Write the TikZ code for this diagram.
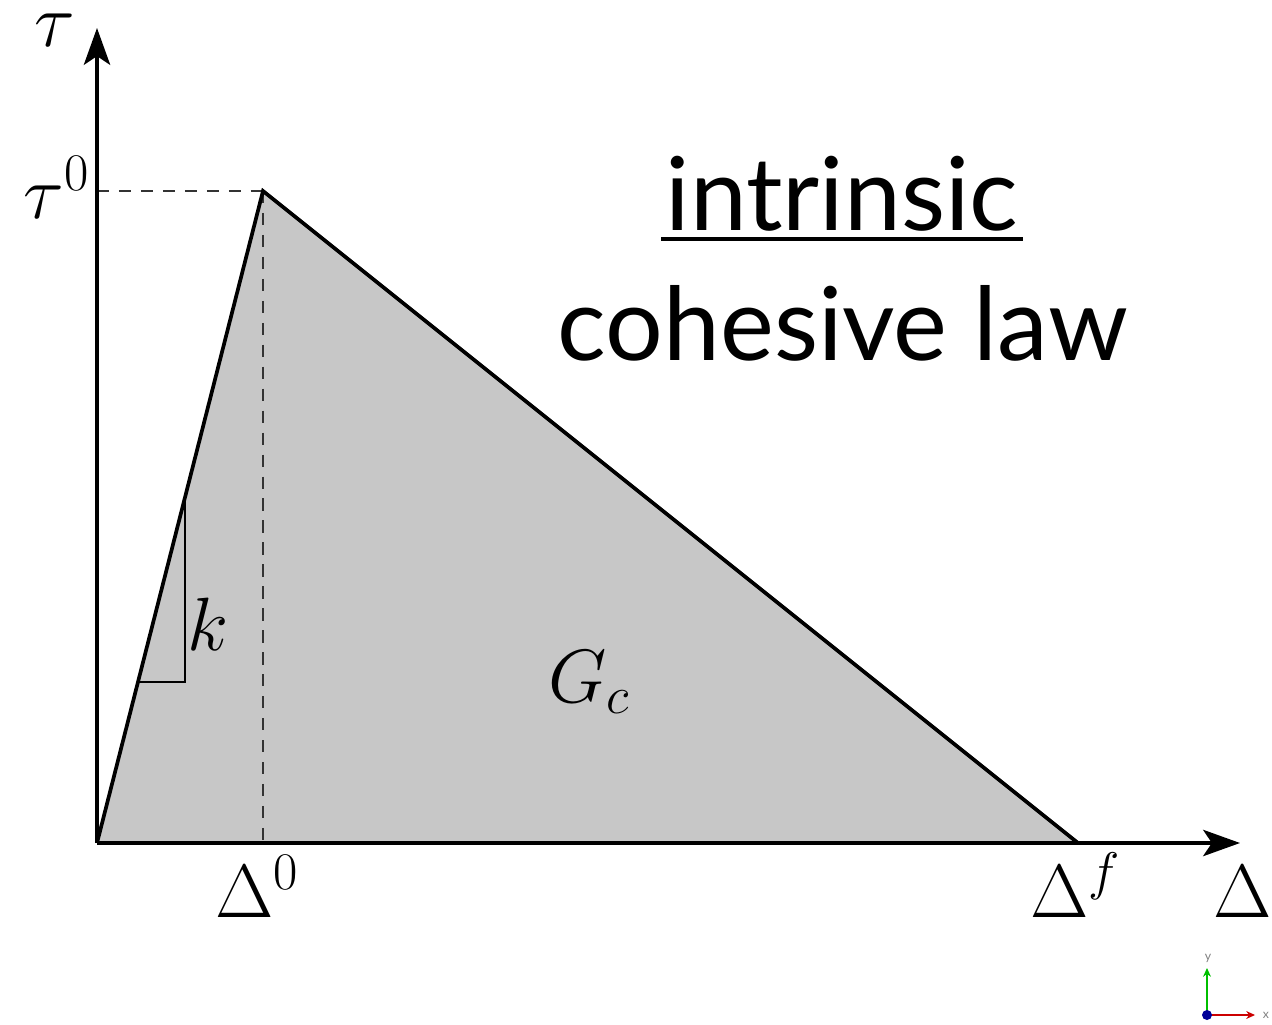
\RequirePackage{fix-cm}
\documentclass[tikz,border=0pt]{standalone}
\usepackage{fontspec}
\setmainfont{Lato}
\usetikzlibrary{arrows.meta}
\definecolor{fillgray}{RGB}{199,199,199}
\begin{document}
\begin{tikzpicture}[x=0.02cm,y=-0.02cm,
  axis/.style={line width=1.8pt,-{Stealth[length=21pt,width=15pt,inset=5pt]}},
  law/.style={line width=2.1pt,line join=miter},
  guide/.style={line width=1.3pt,dash pattern=on 7pt off 5.5pt,black!80},
  slope/.style={line width=1pt},
  mlabel/.style={inner sep=0pt,font=\fontsize{43}{50}\selectfont},
  title/.style={inner sep=0pt,font=\fontsize{58}{70}\selectfont},
  icolabel/.style={inner sep=0pt,text=gray,font=\fontsize{7}{8}\selectfont}]
\useasboundingbox (0,0) rectangle (1272,1025);
\coordinate (O) at (97,843);
\coordinate (P) at (263,191);
\coordinate (F) at (1078,843);
\coordinate (Ytip) at (97,28);
\coordinate (Xtip) at (1240,843);
\coordinate (T0) at (97,191);
\coordinate (D0) at (263,843);
\coordinate (K1) at (185,500);
\coordinate (K2) at (185,682);
\coordinate (K3) at (138,682);
% area
\fill[fillgray] (O) -- (P) -- (F) -- cycle;
% guides
\draw[guide] (T0) -- (P);
\draw[guide] (P) -- (D0);
% slope triangle
\draw[slope] (K1) -- (K2) -- (K3);
% law
\draw[law] (O) -- (P) -- (F);
% axes
\draw[axis] (O) -- (Ytip);
\draw[axis] (O) -- (Xtip);
% labels
\node[mlabel,anchor=base] (tau) at (55,46) {$\tau$};
\node[mlabel,anchor=base east] (tau0) at (90,218) {$\tau^0$};
\node[mlabel,anchor=base west] (k) at (187,650) {$k$};
\node[mlabel,anchor=base west] (Gc) at (548,702) {$G_c$};
\node[mlabel,anchor=base west] (D0l) at (215,917) {$\Delta^0$};
\node[mlabel,anchor=base west] (Dfl) at (1030,917) {$\Delta^f$};
\node[mlabel,anchor=base west] (Dl) at (1213,917) {$\Delta$};
% title
\node[title,anchor=base] (t1) at (842,230) {intrinsic};
\node[title,anchor=base] (t2) at (843,360) {cohesive law};
\draw[line width=2.3pt] ([xshift=-0.08cm,yshift=-0.18cm]t1.base west) -- ([xshift=0.08cm,yshift=-0.18cm]t1.base east);
% coordinate icon
\coordinate (iO) at (1207,1015);
\coordinate (iY) at (1207,968);
\coordinate (iX) at (1255,1015);
\draw[green!75!black,line width=0.6pt,-{Stealth[length=5pt,width=4.5pt]}] (iO) -- (iY);
\draw[red!80!black,line width=0.6pt,-{Stealth[length=5pt,width=4.5pt]}] (iO) -- (iX);
\fill[blue!60!black] (iO) circle[radius=0.1cm];
\node[icolabel] (iyl) at (1208,958) {y};
\node[icolabel] (ixl) at (1266,1015) {x};
\end{tikzpicture}
\end{document}
